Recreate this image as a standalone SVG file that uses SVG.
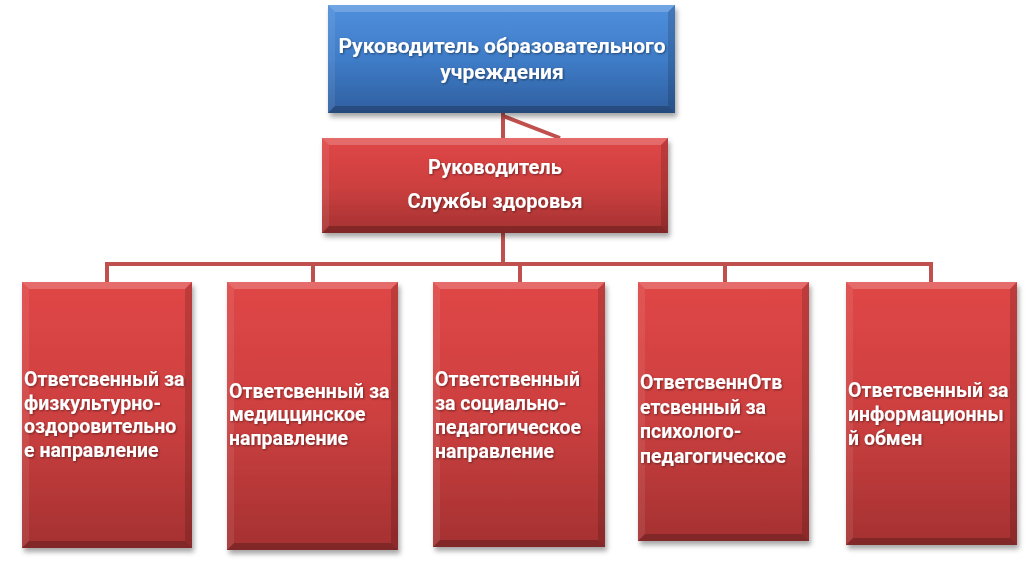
<svg xmlns="http://www.w3.org/2000/svg" width="1036" height="563" viewBox="0 0 1036 563">
<defs>
<linearGradient id="gBlue" x1="0" y1="0" x2="0" y2="1">
<stop offset="0" stop-color="#4f8fdc"/>
<stop offset="0.5" stop-color="#3f7cc8"/>
<stop offset="1" stop-color="#2f5f9f"/>
</linearGradient>
<linearGradient id="gRed" x1="0" y1="0" x2="0" y2="1">
<stop offset="0" stop-color="#e04646"/>
<stop offset="0.5" stop-color="#cd4040"/>
<stop offset="1" stop-color="#a53131"/>
</linearGradient>
<filter id="sh" x="-10%" y="-10%" width="125%" height="125%">
<feDropShadow dx="2" dy="4" stdDeviation="2.5" flood-color="#000" flood-opacity="0.35"/>
</filter>
<filter id="tsh" x="-5%" y="-20%" width="110%" height="150%">
<feDropShadow dx="1" dy="1" stdDeviation="0.8" flood-color="#000" flood-opacity="0.45"/>
</filter>
</defs>
<style>
.blue{fill:url(#gBlue);filter:url(#sh)}
.red{fill:url(#gRed);filter:url(#sh)}
.hi{fill:#fff;opacity:0.2}
.hl{fill:#fff;opacity:0.08}
.dk{fill:#000;opacity:0.15}
.dkb{fill:#000;opacity:0.22}
.conn{fill:none;stroke:#c0504d;stroke-width:4}
text{font-family:Roboto,"Noto Sans","Liberation Sans",sans-serif;font-weight:bold;fill:#fff;filter:url(#tsh)}
.c{text-anchor:middle;font-size:20px}
.t{font-size:21px}
.b{font-size:19.5px}
</style>

<g id="connectors">
<path class="conn" d="M503 113 V138 M503 116 L560 138"/>
<path class="conn" d="M503 233 V264 M107 264 H931 M107 262 V282 M313 264 V282 M520 264 V282 M725 264 V282 M931 262 V282"/>
</g>

<g id="head">
<rect class="blue" x="328" y="5" width="347" height="108"/>
<polygon class="hi" points="328,5 675,5 668,12 335,12"/>
<polygon class="hl" points="328,5 335,12 335,106 328,113"/>
<polygon class="dk" points="675,5 675,113 668,106 668,12"/>
<polygon class="dkb" points="328,113 675,113 668,106 335,106"/>
<text class="c t" x="502" y="53">Руководитель образовательного</text>
<text class="c t" x="502" y="79">учреждения</text>
</g>

<g id="health">
<rect class="red" x="322" y="138" width="346" height="95"/>
<polygon class="hi" points="322,138 668,138 661,145 329,145"/>
<polygon class="hl" points="322,138 329,145 329,226 322,233"/>
<polygon class="dk" points="668,138 668,233 661,226 661,145"/>
<polygon class="dkb" points="322,233 668,233 661,226 329,226"/>
<text class="c" x="495" y="174">Руководитель</text>
<text class="c" x="495" y="208">Службы здоровья</text>
</g>

<g id="n1">
<rect class="red" x="22" y="282" width="170" height="266"/>
<polygon class="hi" points="22,282 192,282 185,289 29,289"/>
<polygon class="hl" points="22,282 29,289 29,541 22,548"/>
<polygon class="dk" points="192,282 192,548 185,541 185,289"/>
<polygon class="dkb" points="22,548 192,548 185,541 29,541"/>
<text class="b" x="24" y="386">Ответсвенный за</text>
<text class="b" x="24" y="410">физкультурно-</text>
<text class="b" x="24" y="433">оздоровительно</text>
<text class="b" x="24" y="457">е направление</text>
</g>

<g id="n2">
<rect class="red" x="227" y="282" width="171" height="268"/>
<polygon class="hi" points="227,282 398,282 391,289 234,289"/>
<polygon class="hl" points="227,282 234,289 234,543 227,550"/>
<polygon class="dk" points="398,282 398,550 391,543 391,289"/>
<polygon class="dkb" points="227,550 398,550 391,543 234,543"/>
<text class="b" x="229" y="398">Ответсвенный за</text>
<text class="b" x="229" y="421">медиццинское</text>
<text class="b" x="229" y="445">направление</text>
</g>

<g id="n3">
<rect class="red" x="433" y="282" width="172" height="265"/>
<polygon class="hi" points="433,282 605,282 598,289 440,289"/>
<polygon class="hl" points="433,282 440,289 440,540 433,547"/>
<polygon class="dk" points="605,282 605,547 598,540 598,289"/>
<polygon class="dkb" points="433,547 605,547 598,540 440,540"/>
<text class="b" x="435" y="386">Ответственный</text>
<text class="b" x="435" y="410">за социально-</text>
<text class="b" x="435" y="434">педагогическое</text>
<text class="b" x="435" y="458">направление</text>
</g>

<g id="n4">
<rect class="red" x="638" y="282" width="171" height="259"/>
<polygon class="hi" points="638,282 809,282 802,289 645,289"/>
<polygon class="hl" points="638,282 645,289 645,534 638,541"/>
<polygon class="dk" points="809,282 809,541 802,534 802,289"/>
<polygon class="dkb" points="638,541 809,541 802,534 645,534"/>
<text class="b" x="640" y="389">ОтветсвеннОтв</text>
<text class="b" x="640" y="414">етсвенный за</text>
<text class="b" x="640" y="438">психолого-</text>
<text class="b" x="640" y="463">педагогическое</text>
</g>

<g id="n5">
<rect class="red" x="846" y="282" width="171" height="263"/>
<polygon class="hi" points="846,282 1017,282 1010,289 853,289"/>
<polygon class="hl" points="846,282 853,289 853,538 846,545"/>
<polygon class="dk" points="1017,282 1017,545 1010,538 1010,289"/>
<polygon class="dkb" points="846,545 1017,545 1010,538 853,538"/>
<text class="b" x="848" y="397">Ответсвенный за</text>
<text class="b" x="848" y="421">информационны</text>
<text class="b" x="848" y="445">й обмен</text>
</g>
</svg>
